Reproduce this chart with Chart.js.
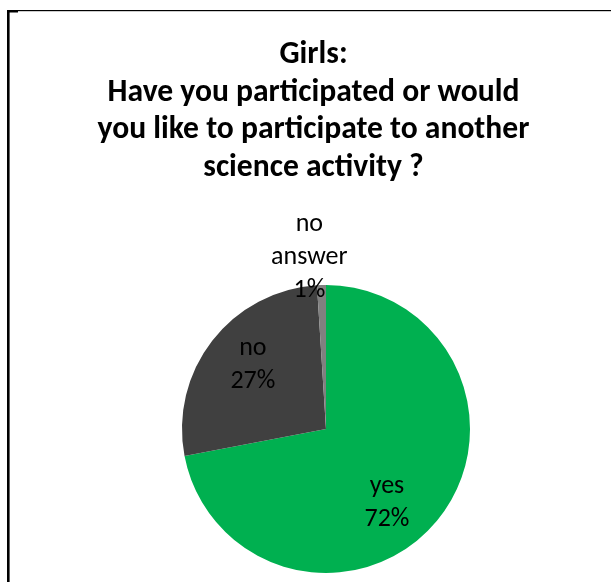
<!DOCTYPE html>
<html>
<head>
<meta charset="utf-8">
<script src="https://cdn.jsdelivr.net/npm/chart.js@4/dist/chart.umd.min.js"></script>
<style>
  html, body { margin: 0; padding: 0; background: #ffffff; }
  canvas { display: block; }
</style>
</head>
<body>
<canvas id="chart" width="611" height="582"></canvas>
<script>
// Survey answers
const categories = ['yes', 'no', 'no answer'];
const shares = [72, 27, 1];
const sliceColors = ['#00B050', '#404040', '#808080'];
const titleLines = [
  'Girls:',
  'Have you participated or would',
  'you like to participate to another',
  'science activity ?'
];

// Where each label block sits, in polar terms relative to its slice:
// fraction of the outer radius and an angular nudge (degrees) off the slice middle.
const labelPlacement = [
  { r: 0.66, shift: 10.5 },
  { r: 0.68, shift: 3.9 },
  { r: 1.205, shift: -3.7 }
];

const LABEL_FONT = '26px Carlito, Calibri, sans-serif';
const LABEL_LINE = 33;

// Frame lines along the top and left edge
const framePlugin = {
  id: 'frame',
  beforeDraw(chart) {
    const ctx = chart.ctx;
    ctx.save();
    ctx.fillStyle = '#000000';
    ctx.fillRect(7, 10, chart.width - 7, 1.2);
    ctx.fillRect(7, 10, 11, 2.5);
    ctx.fillRect(7, 10, 2.6, chart.height - 10);
    ctx.restore();
  }
};

// Shift the plot area so the pie sits a little right of the title centre
const plotShift = {
  id: 'plotShift',
  afterLayout(chart) {
    chart.chartArea.left += 25;
    chart.chartArea.width = chart.chartArea.right - chart.chartArea.left;
  }
};

// Category name and percentage written on/next to each slice
const sliceLabels = {
  id: 'sliceLabels',
  afterDatasetsDraw(chart) {
    const ctx = chart.ctx;
    const meta = chart.getDatasetMeta(0);
    const data = chart.data.datasets[0].data;
    const total = data.reduce((a, b) => a + b, 0);
    ctx.save();
    ctx.font = LABEL_FONT;
    ctx.fillStyle = '#000000';
    ctx.textAlign = 'center';
    ctx.textBaseline = 'alphabetic';
    meta.data.forEach((arc, i) => {
      const p = arc.getProps(['x', 'y', 'startAngle', 'endAngle', 'outerRadius'], true);
      const place = labelPlacement[i];
      const mid = (p.startAngle + p.endAngle) / 2 + place.shift * Math.PI / 180;
      const dist = p.outerRadius * place.r;
      const ax = p.x + Math.cos(mid) * dist;
      const ay = p.y + Math.sin(mid) * dist;
      const pct = Math.round(data[i] / total * 100) + '%';
      const lines = chart.data.labels[i].split(' ').concat([pct]);
      const meanBase = ay + 0.3 * 26;
      const first = meanBase - (lines.length - 1) * LABEL_LINE / 2;
      lines.forEach((t, k) => ctx.fillText(t, ax, first + k * LABEL_LINE));
    });
    ctx.restore();
  }
};

new Chart(document.getElementById('chart'), {
  type: 'pie',
  data: {
    labels: categories,
    datasets: [{
      data: shares,
      backgroundColor: sliceColors,
      borderWidth: 0
    }]
  },
  options: {
    responsive: false,
    animation: false,
    layout: { padding: { left: 16, right: 0, top: 0, bottom: 9 } },
    plugins: {
      legend: { display: false },
      tooltip: { enabled: false },
      title: {
        display: true,
        text: titleLines,
        color: '#000000',
        font: { family: 'Carlito, Calibri, sans-serif', size: 31.6, weight: 'bold', lineHeight: 1.196 },
        padding: { top: 36, bottom: 97.8 }
      }
    }
  },
  plugins: [framePlugin, plotShift, sliceLabels]
});
</script>
</body>
</html>
